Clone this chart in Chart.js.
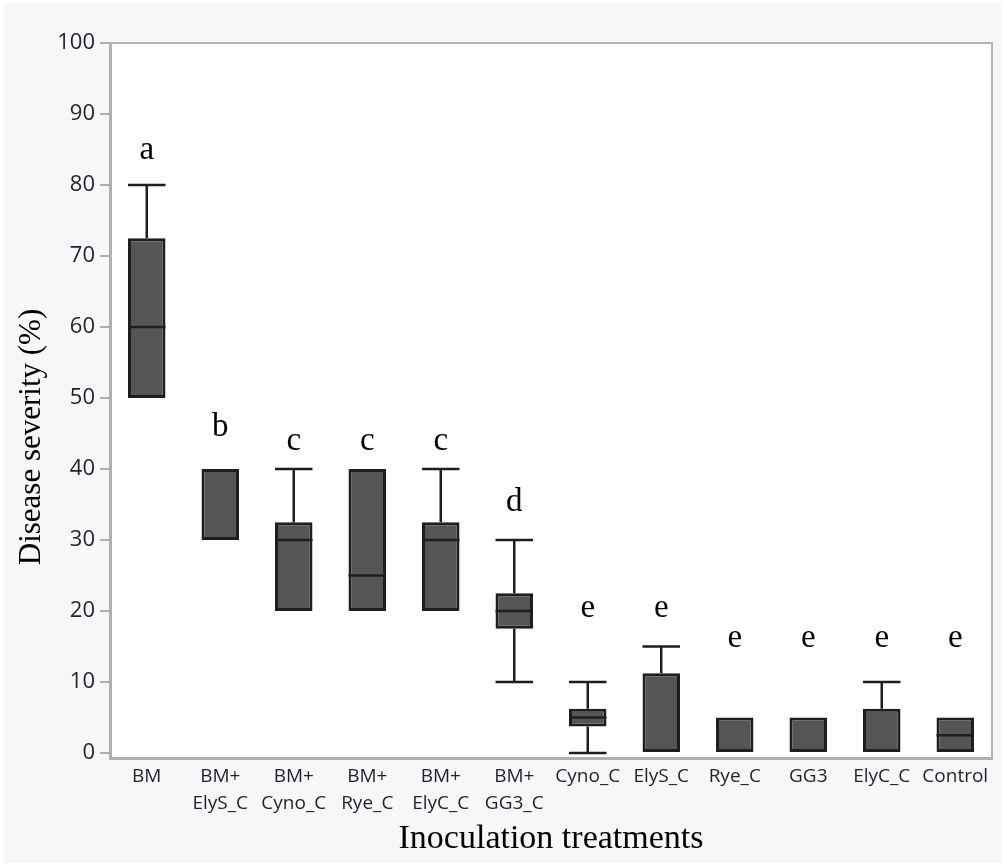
<!DOCTYPE html>
<html>
<head>
<meta charset="utf-8">
<script src="https://cdn.jsdelivr.net/npm/chart.js@4.4.1/dist/chart.umd.min.js"></script>
<style>
  body { margin: 0; background: #fff; }
  #wrap { position: absolute; left: 4px; top: 3px; width: 997px; height: 860px; }
</style>
</head>
<body>
<div id="wrap"><canvas id="boxChart"></canvas></div>
<script>
// treatments on the x axis
var categories = [['BM'], ['BM+', 'ElyS_C'], ['BM+', 'Cyno_C'], ['BM+', 'Rye_C'], ['BM+', 'ElyC_C'],
  ['BM+', 'GG3_C'], ['Cyno_C'], ['ElyS_C'], ['Rye_C'], ['GG3'], ['ElyC_C'], ['Control']];

// box plot statistics, disease severity (%)
var whiskerLow  = [50, 30, 20, 20, 20, 10,   0,    0,     0, 0, 0,    0];
var q1          = [50, 30, 20, 20, 20, 17.5, 3.75, 0,     0, 0, 0,    0];
var median      = [60, 40, 30, 25, 30, 20,   5,    0,     0, 0, 0,    2.5];
var q3          = [72.5, 40, 32.5, 40, 32.5, 22.5, 6.25, 11.25, 5, 5, 6.25, 5];
var whiskerHigh = [80, 40, 40, 40, 40, 30,   10,   15,    5, 5, 10,   5];

// significance letters and the value they sit at
var letters  = ['a', 'b', 'c', 'c', 'c', 'd', 'e', 'e', 'e', 'e', 'e', 'e'];
var letterAt = [85, 46, 44, 44, 44, 35.5, 20.5, 20.5, 16.3, 16.3, 16.3, 16.3];

var yTicks = [0, 10, 20, 30, 40, 50, 60, 70, 80, 90, 100];

var boxParts = {
  id: 'boxParts',
  beforeDraw: function(chart) {
    var ctx = chart.ctx, a = chart.chartArea;
    ctx.save();
    ctx.fillStyle = '#f7f7f7';
    ctx.fillRect(0, 0, chart.width, chart.height);
    ctx.fillStyle = '#ffffff';
    ctx.fillRect(a.left, a.top, a.right - a.left, a.bottom - a.top);
    ctx.restore();
  },
  afterDatasetsDraw: function(chart) {
    var ctx = chart.ctx, y = chart.scales.y;
    var meta = chart.getDatasetMeta(0);
    ctx.save();
    ctx.strokeStyle = '#1e1e1e';
    ctx.lineWidth = 2.5;
    meta.data.forEach(function(bar, i) {
      var x = bar.x, half = bar.width / 2;
      ctx.beginPath();
      if (whiskerHigh[i] > q3[i]) {
        ctx.moveTo(x, y.getPixelForValue(q3[i]));
        ctx.lineTo(x, y.getPixelForValue(whiskerHigh[i]));
        ctx.moveTo(x - half, y.getPixelForValue(whiskerHigh[i]));
        ctx.lineTo(x + half, y.getPixelForValue(whiskerHigh[i]));
      }
      if (whiskerLow[i] < q1[i]) {
        ctx.moveTo(x, y.getPixelForValue(q1[i]));
        ctx.lineTo(x, y.getPixelForValue(whiskerLow[i]));
        ctx.moveTo(x - half, y.getPixelForValue(whiskerLow[i]));
        ctx.lineTo(x + half, y.getPixelForValue(whiskerLow[i]));
      }
      // median only when it falls inside the box
      if (median[i] > q1[i] && median[i] < q3[i]) {
        ctx.moveTo(x - half, y.getPixelForValue(median[i]));
        ctx.lineTo(x + half, y.getPixelForValue(median[i]));
      }
      ctx.stroke();
    });
    // letters
    ctx.fillStyle = '#000';
    ctx.font = '33px "Liberation Serif"';
    ctx.textAlign = 'center';
    ctx.textBaseline = 'middle';
    meta.data.forEach(function(bar, i) {
      ctx.fillText(letters[i], bar.x, y.getPixelForValue(letterAt[i]) + 1);
    });
    ctx.restore();
  },
  afterDraw: function(chart) {
    var ctx = chart.ctx, a = chart.chartArea;
    ctx.save();
    ctx.strokeStyle = '#b4b4b4';
    ctx.lineWidth = 2;
    ctx.beginPath();
    ctx.moveTo(a.left, a.top);
    ctx.lineTo(a.right, a.top);
    ctx.lineTo(a.right, a.bottom);
    ctx.stroke();
    ctx.fillStyle = '#000';
    ctx.textAlign = 'center';
    ctx.textBaseline = 'middle';
    ctx.font = '34px "Liberation Serif"';
    ctx.fillText('Inoculation treatments', (a.left + a.right) / 2, 836);
    ctx.translate(28, 434);
    ctx.rotate(-Math.PI / 2);
    ctx.font = '31px "Liberation Serif"';
    ctx.fillText('Disease severity (%)', 0, 0);
    ctx.restore();
  }
};

new Chart(document.getElementById('boxChart'), {
  type: 'bar',
  data: {
    labels: categories,
    datasets: [{
      label: 'Disease severity',
      data: q1.map(function(v, i) { return [v, q3[i]]; }),
      backgroundColor: '#555555',
      borderColor: '#1e1e1e',
      borderWidth: 3,
      borderSkipped: false,
      barPercentage: 0.51,
      categoryPercentage: 1
    }]
  },
  options: {
    responsive: true,
    maintainAspectRatio: false,
    animation: false,
    layout: { padding: { top: 40, right: 9, left: 0, bottom: 0 } },
    plugins: { legend: { display: false }, tooltip: { enabled: false } },
    scales: {
      x: {
        offset: true,
        grid: { display: false },
        border: { display: true, color: '#b0b0b0', width: 3 },
        ticks: {
          color: '#221f33',
          font: { family: '"Open Sans"', size: 19, lineHeight: 1.42 },
          padding: -3,
          maxRotation: 0,
          autoSkip: false
        },
        afterFit: function(scale) { scale.height = 105; }
      },
      y: {
        min: -0.7,
        max: 100,
        afterBuildTicks: function(scale) {
          scale.ticks = yTicks.map(function(v) { return { value: v }; });
        },
        grid: { drawOnChartArea: false, drawTicks: true, tickLength: 10, color: '#b0b0b0', lineWidth: 2 },
        border: { display: true, color: '#b0b0b0', width: 3 },
        ticks: {
          color: '#221f33',
          font: { family: '"Open Sans"', size: 22 },
          padding: 5
        },
        afterFit: function(scale) { scale.width = 106; }
      }
    }
  },
  plugins: [boxParts]
});
</script>
</body>
</html>
